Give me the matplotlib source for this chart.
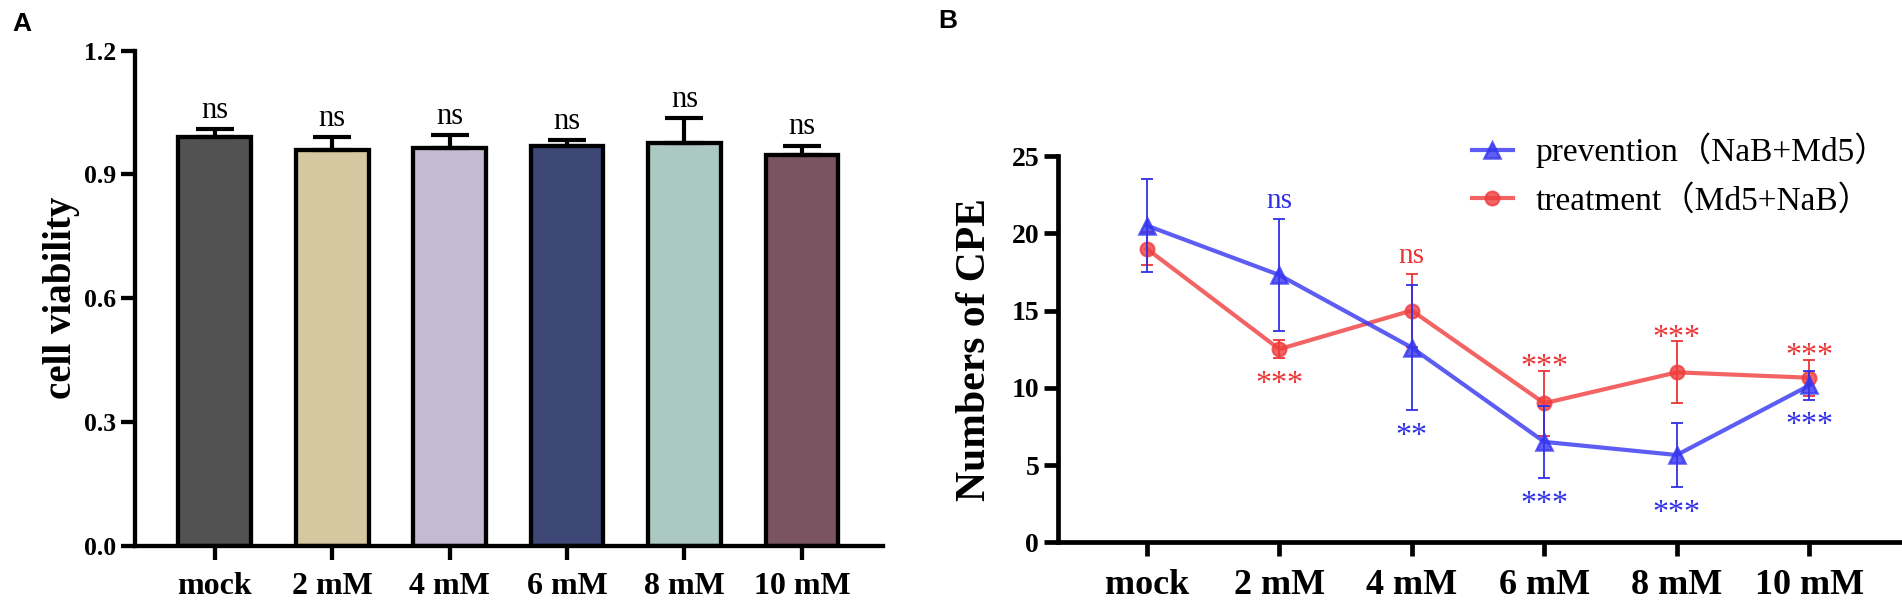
import matplotlib
matplotlib.use("Agg")
import matplotlib.pyplot as plt
from matplotlib.font_manager import FontProperties
import numpy as np

# ---------------- data ----------------
categories = ["mock", "2 mM", "4 mM", "6 mM", "8 mM", "10 mM"]

viability = [0.99, 0.96, 0.963, 0.968, 0.976, 0.947]
viability_err = [0.02, 0.03, 0.032, 0.015, 0.06, 0.023]
viability_sig = ["ns", "ns", "ns", "ns", "ns", "ns"]
bar_colors = ["#525252", "#D5C8A0", "#C4BBD3", "#3D4877", "#ABC9C2", "#7A5461"]

prevention = [20.5, 17.3, 12.6, 6.5, 5.65, 10.15]
prevention_err = [3.0, 3.6, 4.05, 2.35, 2.1, 0.95]
prevention_sig = ["", "ns", "**", "***", "***", "***"]
prevention_sig_pos = ["", "above", "below", "below", "below", "below"]

treatment = [19.0, 12.5, 15.0, 9.0, 11.0, 10.65]
treatment_err = [1.05, 0.6, 2.35, 2.1, 2.0, 1.15]
treatment_sig = ["", "***", "ns", "***", "***", "***"]
treatment_sig_pos = ["", "below", "above", "above", "above", "above"]

legend_labels = ["prevention\uff08NaB+Md5\uff09", "treatment\uff08Md5+NaB\uff09"]

# ---------------- style ----------------
SERIF = "Liberation Serif"
BLUE_LINE = "#3535f0"
BLUE_ERR = "#3030e6"
RED_LINE = "#f03c3c"
RED_ERR = "#ec3434"

W, H = 1902, 604
fig = plt.figure(figsize=(W / 100, H / 100), dpi=100)

def px_axes(l, t, r, b):
    return fig.add_axes([l / W, 1 - b / H, (r - l) / W, (b - t) / H])

def style_axes(ax, spine_lw):
    for s in ["top", "right"]:
        ax.spines[s].set_visible(False)
    for s in ["left", "bottom"]:
        ax.spines[s].set_linewidth(spine_lw)
    ax.tick_params(axis="both", width=spine_lw, length=10, direction="out")

# ---------------- panel A ----------------
axA = px_axes(135, 50.7, 883, 545.8)
x = np.arange(len(categories))
axA.bar(x, viability, width=0.62, color=bar_colors, edgecolor="black",
        linewidth=3.1, zorder=2)
axA.errorbar(x, viability, yerr=[np.zeros(len(x)), viability_err], fmt="none",
             ecolor="black", elinewidth=3.0, capsize=14, capthick=3.0, zorder=3)
for xi, v, e, s in zip(x, viability, viability_err, viability_sig):
    axA.annotate(s, (xi, v + e), xytext=(0, 8), textcoords="offset points",
                 ha="center", va="baseline", fontsize=22, family=SERIF)
axA.set_xlim(-0.678, 5.69)
axA.set_ylim(0, 1.2)
axA.set_yticks([0.0, 0.3, 0.6, 0.9, 1.2])
axA.set_yticklabels(["0.0", "0.3", "0.6", "0.9", "1.2"])
axA.set_xticks(x)
axA.set_xticklabels(categories)
style_axes(axA, 3.1)
axA.tick_params(axis="y", pad=3.5)
axA.tick_params(axis="x", pad=9)
for lab in axA.get_yticklabels():
    lab.set_fontproperties(FontProperties(family=SERIF, weight="bold", size=18.5))
for lab in axA.get_xticklabels():
    lab.set_fontproperties(FontProperties(family=SERIF, weight="bold", size=23))
axA.set_ylabel("cell viability", fontsize=28, fontweight="bold", family=SERIF)
axA.yaxis.label.set_va("center")
axA.yaxis.set_label_coords(-0.0976, 0.5)

# ---------------- panel B ----------------
axB = px_axes(1058, 156, 1902, 542.3)
axB.errorbar(x, treatment, yerr=treatment_err, fmt="none", ecolor=RED_ERR,
             elinewidth=1.3, capsize=4.5, capthick=1.3, zorder=3)
axB.plot(x, treatment, color=RED_LINE, alpha=0.8, lw=3.0, marker="o",
         markersize=10, markerfacecolor=(0.94, 0.24, 0.24, 0.35),
         markeredgecolor=RED_LINE, markeredgewidth=1.5, zorder=4,
         label=legend_labels[1])
axB.errorbar(x, prevention, yerr=prevention_err, fmt="none", ecolor=BLUE_ERR,
             elinewidth=1.3, capsize=4.5, capthick=1.3, zorder=5)
axB.plot(x, prevention, color=BLUE_LINE, alpha=0.8, lw=3.0, marker="^",
         markersize=12, markerfacecolor=(0.21, 0.21, 0.94, 0.3),
         markeredgecolor=BLUE_LINE, markeredgewidth=1.8, zorder=6,
         label=legend_labels[0])

def annotate_sig(vals, errs, sigs, poss, color):
    for xi, v, e, s, p in zip(x, vals, errs, sigs, poss):
        if not s:
            continue
        if p == "above":
            off = 8 if s == "ns" else -3
            y = v + e
        else:
            off = -24 if s != "ns" else -22
            y = v - e
        size = 21 if s == "ns" else 23
        axB.annotate(s, (xi, y), xytext=(0, off), textcoords="offset points",
                     ha="center", va="baseline", fontsize=size, family=SERIF,
                     color=color)

annotate_sig(prevention, prevention_err, prevention_sig, prevention_sig_pos, BLUE_ERR)
annotate_sig(treatment, treatment_err, treatment_sig, treatment_sig_pos, RED_ERR)

axB.set_xlim(-0.67, 5.70)
axB.set_ylim(0, 25)
axB.set_yticks([0, 5, 10, 15, 20, 25])
axB.set_xticks(x)
axB.set_xticklabels(categories)
style_axes(axB, 3.4)
axB.tick_params(axis="y", pad=3.5)
axB.tick_params(axis="x", pad=9)
for lab in axB.get_yticklabels():
    lab.set_fontproperties(FontProperties(family=SERIF, weight="bold", size=20))
for lab in axB.get_xticklabels():
    lab.set_fontproperties(FontProperties(family=SERIF, weight="bold", size=26))
axB.set_ylabel("Numbers of CPE", fontsize=30, fontweight="bold", family=SERIF)
axB.yaxis.label.set_va("center")
axB.yaxis.set_label_coords(-0.0986, 0.5)

handles, labels = axB.get_legend_handles_labels()
leg = axB.legend(handles[::-1], labels[::-1], loc="upper left",
                 bbox_to_anchor=(0.49, 1.06), frameon=False,
                 prop=FontProperties(family=[SERIF, "Noto Sans CJK SC"], size=24),
                 handlelength=1.25, handletextpad=0.68, labelspacing=0.5,
                 borderpad=0, borderaxespad=0)

# ---------------- panel letters ----------------
fig.text(12 / W, 1 - 12 / H, "A", fontsize=19, fontweight="bold",
         family="Liberation Sans", ha="left", va="top")
fig.text(938 / W, 1 - 9 / H, "B", fontsize=19, fontweight="bold",
         family="Liberation Sans", ha="left", va="top")

fig.savefig("out.png", dpi=100)
